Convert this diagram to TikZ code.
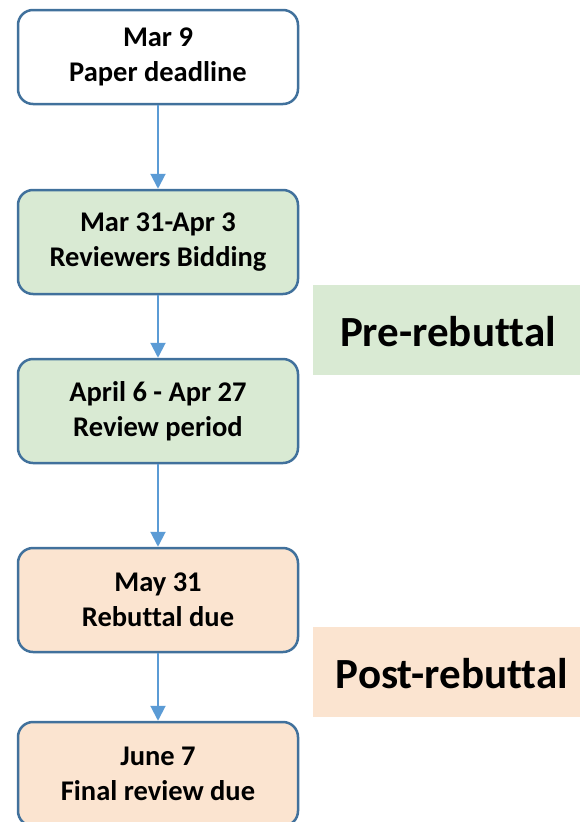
\documentclass[tikz,border=0pt]{standalone}
\usepackage{fontspec}
\setmainfont{Carlito}[RawFeature=-liga]
\usetikzlibrary{arrows.meta}
\definecolor{bordc}{HTML}{41719C}
\definecolor{arrc}{HTML}{5B9BD5}
\definecolor{greenf}{HTML}{D9EAD3}
\definecolor{orangef}{HTML}{FBE4D0}
\tikzset{
  stagebox/.style={draw=bordc, line width=2.5pt, rounded corners=15pt, minimum width=280pt, inner sep=0pt, align=center, font=\fontsize{28.5}{34.5}\selectfont\bfseries},
  phase/.style={inner sep=0pt, font=\fontsize{43}{48}\selectfont\bfseries},
  flow/.style={draw=arrc, line width=2pt, -{Triangle[width=15pt,length=15pt]}}
}
\begin{document}
\begin{tikzpicture}[x=1pt,y=-1pt]
\useasboundingbox (0,0) rectangle (579,822);
\fill[greenf] (313,285) rectangle (590,375);
\fill[orangef] (313,627) rectangle (590,717);
\node[phase] (pre) at (448,332) {Pre-rebuttal};
\node[phase] (post) at (452,674) {Post-rebuttal};
\node[stagebox, fill=white, minimum height=94pt] (b1) at (158,57) {Mar 9\\Paper deadline};
\node[stagebox, fill=greenf, minimum height=104pt] (b2) at (158,242) {Mar 31-Apr 3\\Reviewers Bidding};
\node[stagebox, fill=greenf, minimum height=104pt] (b3) at (158,411) {April 6 - Apr 27\\Review period};
\node[stagebox, fill=orangef, minimum height=104pt] (b4) at (158,600) {May 31\\Rebuttal due};
\node[stagebox, fill=orangef, minimum height=104pt] (b5) at (158,774) {June 7\\Final review due};
\draw[flow] (b1) -- (b2);
\draw[flow] (b2) -- (b3);
\draw[flow] (b3) -- (b4);
\draw[flow] (b4) -- (b5);
\end{tikzpicture}
\end{document}
